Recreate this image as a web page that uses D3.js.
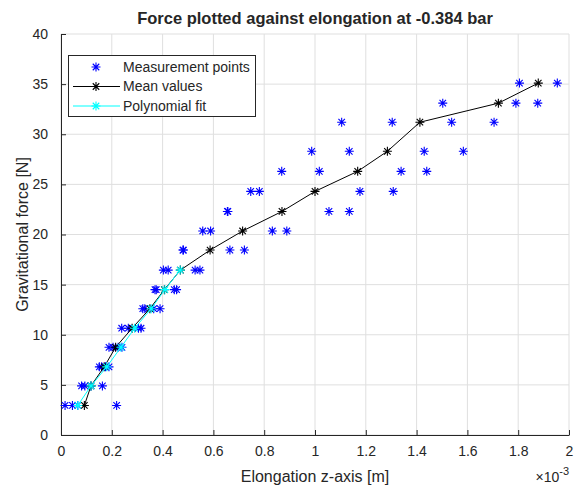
<!DOCTYPE html>
<html lang="en">
<head>
<meta charset="utf-8">
<title>Force plotted against elongation</title>
<script src="https://d3js.org/d3.v7.min.js"></script>
<style>
    body { margin: 0; background: #fff; }
    #chart1 { width: 585px; height: 486px; }
    text { font-family: "Liberation Sans", Arial, Helvetica, sans-serif; fill: #262626; }
</style>
</head>
<body>
<div id="chart1"></div>
<script>
    // force levels [N] (one row of measurements per level)
    const forceLevels = [2.95, 4.9, 6.8, 8.75, 10.65, 12.6, 14.5, 16.45, 18.45, 20.35, 22.3, 24.3, 26.3, 28.3, 31.2, 33.1, 35.1];

    // measured elongation [x10^-3 m] at each force level
    const measElong = [
        [0.016, 0.045, 0.066, 0.219],
        [0.081, 0.094, 0.118, 0.163],
        [0.151, 0.160, 0.175, 0.189],
        [0.189, 0.205, 0.225, 0.240],
        [0.239, 0.265, 0.305, 0.315],
        [0.322, 0.330, 0.365, 0.390],
        [0.370, 0.375, 0.446, 0.455],
        [0.403, 0.422, 0.528, 0.547],
        [0.480, 0.482, 0.665, 0.722],
        [0.558, 0.589, 0.832, 0.889],
        [0.655, 0.657, 1.055, 1.135],
        [0.747, 0.781, 1.177, 1.308],
        [0.869, 1.017, 1.339, 1.440],
        [0.987, 1.135, 1.430, 1.584],
        [1.105, 1.304, 1.538, 1.705],
        [1.503, 1.791, 1.877],
        [1.805, 1.954]
    ];

    // mean elongation per level
    const meanElong = [0.092, 0.118, 0.170, 0.215, 0.280, 0.350, 0.407, 0.470, 0.587, 0.715, 0.870, 1.000, 1.168, 1.285, 1.413, 1.722, 1.879];

    // polynomial fit (first 8 levels)
    const fitForce = [2.95, 4.9, 6.8, 8.75, 10.65, 12.6, 14.5, 16.45];
    const fitElong = [0.066, 0.118, 0.180, 0.236, 0.290, 0.355, 0.409, 0.469];

    const xTicks = [0, 0.2, 0.4, 0.6, 0.8, 1, 1.2, 1.4, 1.6, 1.8, 2];
    const yTicks = [0, 5, 10, 15, 20, 25, 30, 35, 40];

    const legendItems = ["Measurement points", "Mean values", "Polynomial fit"];

    const axisColor = "#262626";
    const gridColor = "#dfdfdf";

    var margin = {top: 34, right: 16, bottom: 51, left: 61},
        width = 585 - margin.left - margin.right,
        height = 486 - margin.top - margin.bottom;

    var svg = d3.select("#chart1")
        .append("svg")
            .attr("width", 585)
            .attr("height", 486)
        .append("g")
            .attr("transform", "translate(" + margin.left + "," + margin.top + ")");

    var x = d3.scaleLinear().domain([0, 2]).range([0, width]);
    var y = d3.scaleLinear().domain([0, 40]).range([height, 0]);

    // grid
    svg.append("g").selectAll("line.vg")
        .data(xTicks).enter().append("line")
        .attr("x1", d => x(d)).attr("x2", d => x(d))
        .attr("y1", 0).attr("y2", height)
        .attr("stroke", gridColor).attr("stroke-width", 1);
    svg.append("g").selectAll("line.hg")
        .data(yTicks).enter().append("line")
        .attr("y1", d => y(d)).attr("y2", d => y(d))
        .attr("x1", 0).attr("x2", width)
        .attr("stroke", gridColor).attr("stroke-width", 1);

    // axes (ticks pointing inward, like matlab)
    var xAxis = svg.append("g")
        .attr("transform", "translate(0," + height + ")")
        .call(d3.axisBottom(x).tickValues(xTicks).tickSizeInner(-5).tickSizeOuter(0).tickPadding(11).tickFormat(d3.format("~g")));
    var yAxis = svg.append("g")
        .call(d3.axisLeft(y).tickValues(yTicks).tickSizeInner(-5).tickSizeOuter(0).tickPadding(13));

    [xAxis, yAxis].forEach(function(a) {
        a.select(".domain").attr("stroke", axisColor);
        a.selectAll(".tick line").attr("stroke", axisColor);
        a.selectAll(".tick text")
            .style("font-family", "'Liberation Sans', Arial, sans-serif")
            .style("font-size", "14px")
            .attr("fill", axisColor);
    });

    // asterisk marker path
    function star(cx, cy, r) {
        var d = r * 0.72;
        return "M" + (cx - r) + "," + cy + "H" + (cx + r) +
               "M" + cx + "," + (cy - r) + "V" + (cy + r) +
               "M" + (cx - d) + "," + (cy - d) + "L" + (cx + d) + "," + (cy + d) +
               "M" + (cx - d) + "," + (cy + d) + "L" + (cx + d) + "," + (cy - d);
    }

    // measurement points
    var measPts = [];
    forceLevels.forEach(function(f, i) {
        measElong[i].forEach(function(e) { measPts.push({e: e, f: f}); });
    });
    svg.append("g").selectAll("path")
        .data(measPts).enter().append("path")
        .attr("d", d => star(x(d.e), y(d.f), 4.5))
        .attr("stroke", "#0000ff").attr("stroke-width", 1.1).attr("fill", "none");

    // mean values
    var meanData = forceLevels.map((f, i) => ({e: meanElong[i], f: f}));
    var line = d3.line().x(d => x(d.e)).y(d => y(d.f));
    svg.append("path")
        .datum(meanData)
        .attr("d", line)
        .attr("fill", "none").attr("stroke", "#000").attr("stroke-width", 1);
    svg.append("g").selectAll("path")
        .data(meanData).enter().append("path")
        .attr("d", d => star(x(d.e), y(d.f), 4.5))
        .attr("stroke", "#000").attr("stroke-width", 1.1).attr("fill", "none");

    // polynomial fit
    var fitData = fitForce.map((f, i) => ({e: fitElong[i], f: f}));
    svg.append("path")
        .datum(fitData)
        .attr("d", line)
        .attr("fill", "none").attr("stroke", "#00ffff").attr("stroke-width", 1);
    svg.append("g").selectAll("path")
        .data(fitData).enter().append("path")
        .attr("d", d => star(x(d.e), y(d.f), 4.5))
        .attr("stroke", "#00ffff").attr("stroke-width", 1.1).attr("fill", "none");

    // legend
    var lg = svg.append("g").attr("transform", "translate(" + (68 - margin.left) + "," + (55 - margin.top) + ")");
    lg.append("rect")
        .attr("x", 0.5).attr("y", 0.5).attr("width", 187).attr("height", 61)
        .attr("fill", "#fff").attr("stroke", axisColor).attr("stroke-width", 1);
    var legColors = ["#0000ff", "#000", "#00ffff"];
    legendItems.forEach(function(t, i) {
        var ly = 12 + i * 19.5;
        if (i > 0) {
            lg.append("line").attr("x1", 5).attr("x2", 52).attr("y1", ly).attr("y2", ly)
                .attr("stroke", legColors[i]).attr("stroke-width", 1);
        }
        lg.append("path").attr("d", star(28, ly, 4.5))
            .attr("stroke", legColors[i]).attr("stroke-width", 1.1).attr("fill", "none");
        lg.append("text").attr("x", 55).attr("y", ly).attr("dy", "0.35em")
            .style("font-size", "14px").text(t);
    });

    // title and labels
    svg.append("text")
        .attr("x", width / 2).attr("y", -10)
        .attr("text-anchor", "middle")
        .style("font-size", "16.5px").style("font-weight", "bold")
        .attr("fill", "#000")
        .text("Force plotted against elongation at -0.384 bar");

    svg.append("text")
        .attr("x", width / 2).attr("y", height + 47)
        .attr("text-anchor", "middle")
        .style("font-size", "16px")
        .text("Elongation z-axis [m]");

    svg.append("text")
        .attr("transform", "translate(" + (-33) + "," + (height / 2) + ") rotate(-90)")
        .attr("text-anchor", "middle")
        .style("font-size", "16px")
        .text("Gravitational force [N]");

    var exp = svg.append("text")
        .attr("x", width).attr("y", height + 47)
        .attr("text-anchor", "end")
        .style("font-size", "14px");
    exp.append("tspan").text("\u00d710");
    exp.append("tspan").attr("dy", -7).style("font-size", "11px").text("-3");
</script>
</body>
</html>
